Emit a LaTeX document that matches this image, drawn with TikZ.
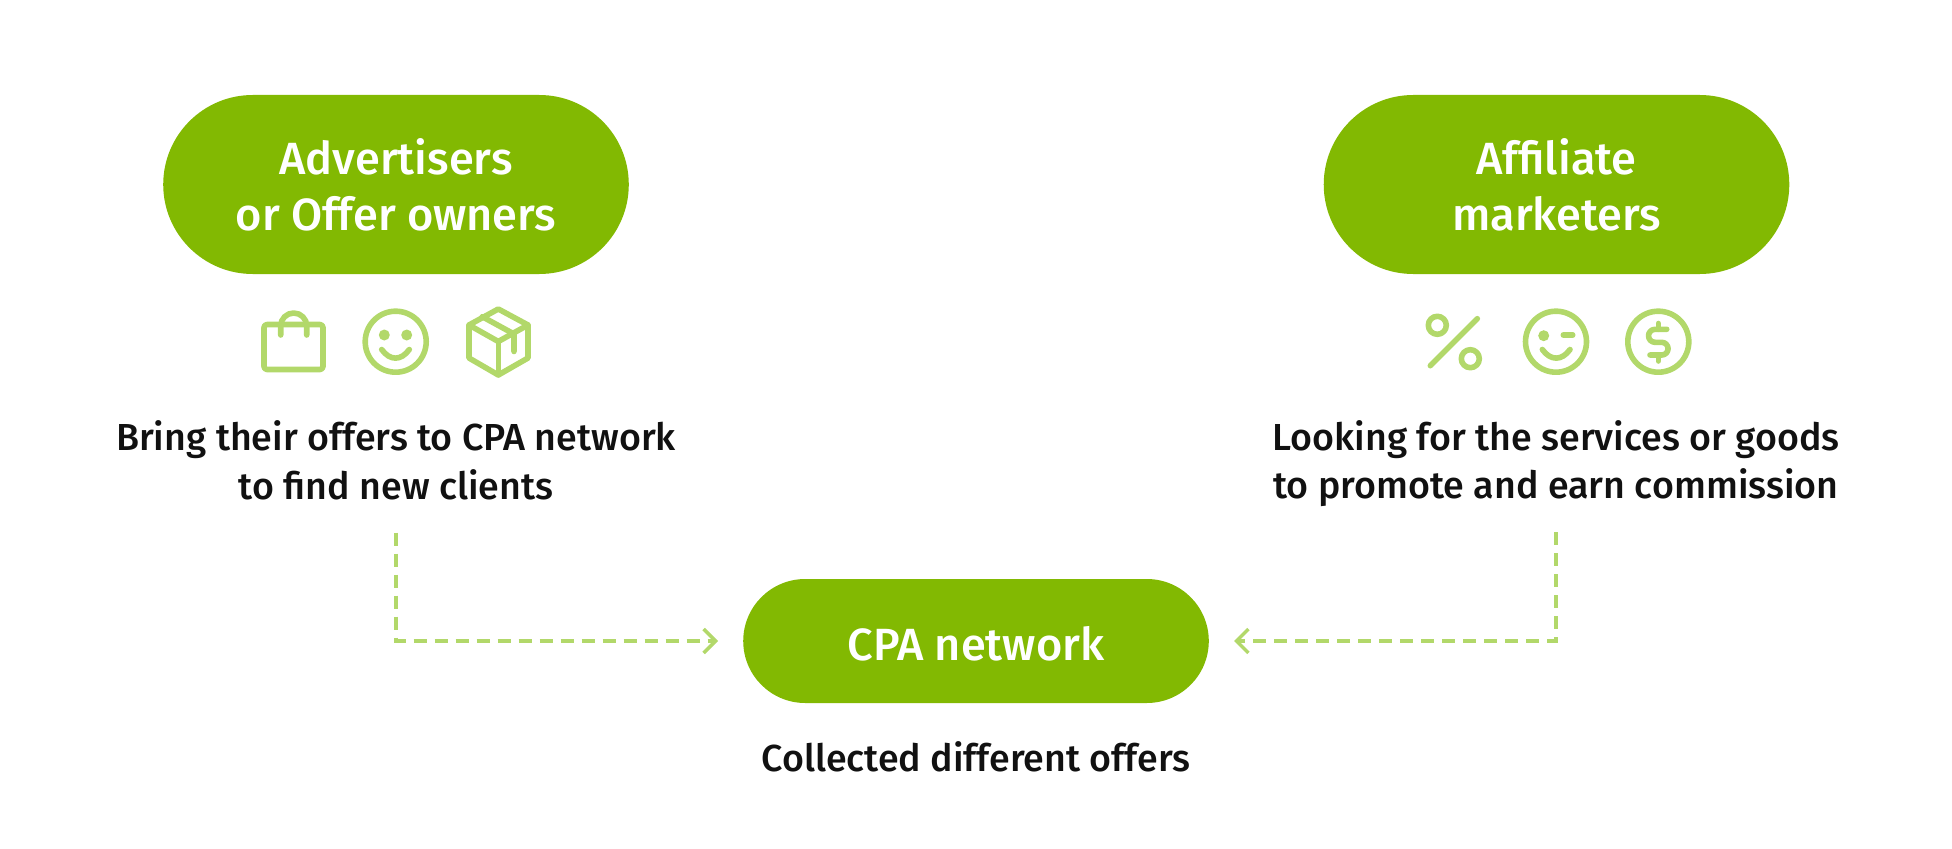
\documentclass[tikz,border=0pt]{standalone}
\usepackage{fontspec}
\setmainfont{Fira Sans}[UprightFont=* Medium]
\usetikzlibrary{arrows.meta,shapes.misc}
\definecolor{pillgreen}{HTML}{82B902}
\definecolor{lightgreen}{HTML}{B2D86A}
\definecolor{inkblack}{HTML}{111111}
\tikzset{
   pill/.style={rounded rectangle,fill=pillgreen,text=white,align=center,minimum width=4.89cm,font=\fontsize{12.85}{15.9}\selectfont},
   desc/.style={text=inkblack,align=center,inner sep=0pt,font=\fontsize{10.7}{13.8}\selectfont},
   icon/.style={draw=lightgreen,line width=.056cm,line cap=round,line join=round},
   eye/.style={fill=lightgreen,draw=none},
   flow/.style={draw=lightgreen,line width=.034cm,dash pattern=on .13cm off .08cm,-{Straight Barb[length=.12cm,width=.24cm,line width=.034cm]}},
}
\begin{document}
\begin{tikzpicture}
   \useasboundingbox (0,0) rectangle (19.52,8.48);
   \node[pill,minimum height=1.79cm] (advertisers) at (3.96,6.635) {Advertisers\\or Offer owners};
   \node[pill,minimum height=1.79cm] (affiliates) at (15.565,6.635) {Affiliate\\marketers};
   \node[pill,minimum height=1.24cm,text height=.385cm,text depth=0cm] (cpa) at (9.76,2.07) {CPA network};
   \node[desc] (advdesc) at (3.96,3.875) {Bring their offers to CPA network\\to find new clients};
   \node[desc] (affdesc) at (15.56,3.845) {Looking for the services or goods\\to promote and earn commission};
   \node[desc] (cpadesc) at (9.76,.915) {Collected different offers};
   \draw[flow,shorten <=.32cm,shorten >=.245cm] (advdesc) |- (cpa);
   \draw[flow,shorten <=.245cm,shorten >=.245cm] (affdesc) |- (cpa);
   % bag
   \draw[icon,rounded corners=.03cm] (2.64,5.235) rectangle (3.23,4.785);
   \draw[icon] (2.807,5.13) -- (2.807,5.22) arc[start angle=180,end angle=0,radius=.13] -- (3.067,5.13);
   % smile
   \draw[icon] (3.957,5.063) circle (.305);
   \fill[eye] (3.843,5.13) circle (.055);
   \fill[eye] (4.067,5.13) circle (.055);
   \draw[icon] (3.817,4.985) .. controls (3.9,4.87) and (4.01,4.87) .. (4.093,4.985);
   % box
   \draw[icon] (4.983,5.39) -- (5.28,5.23) -- (5.28,4.90) -- (4.983,4.73) -- (4.69,4.90) -- (4.69,5.23) -- cycle;
   \draw[icon] (4.69,5.23) -- (4.983,5.065) -- (5.28,5.23);
   \draw[icon] (4.983,5.065) -- (4.983,4.73);
   \draw[icon] (4.823,5.313) -- (5.14,5.14) -- (5.14,4.965);
   % percent
   \draw[icon] (14.373,5.227) circle (.09);
   \draw[icon] (14.703,4.893) circle (.09);
   \draw[icon] (14.773,5.293) -- (14.303,4.823);
   % wink
   \draw[icon] (15.56,5.063) circle (.305);
   \fill[eye] (15.437,5.123) circle (.055);
   \draw[icon] (15.633,5.13) -- (15.727,5.13);
   \draw[icon] (15.423,4.985) .. controls (15.506,4.87) and (15.617,4.87) .. (15.70,4.985);
   % dollar
   \draw[icon] (16.583,5.063) circle (.305);
   \draw[icon] (16.667,5.187) -- (16.55,5.187) arc[start angle=90,end angle=270,radius=.065] -- (16.617,5.057) arc[start angle=90,end angle=-90,radius=.0635] -- (16.5,4.93);
   \draw[icon] (16.583,5.245) -- (16.583,5.187);
   \draw[icon] (16.583,4.93) -- (16.583,4.87);
\end{tikzpicture}
\end{document}
